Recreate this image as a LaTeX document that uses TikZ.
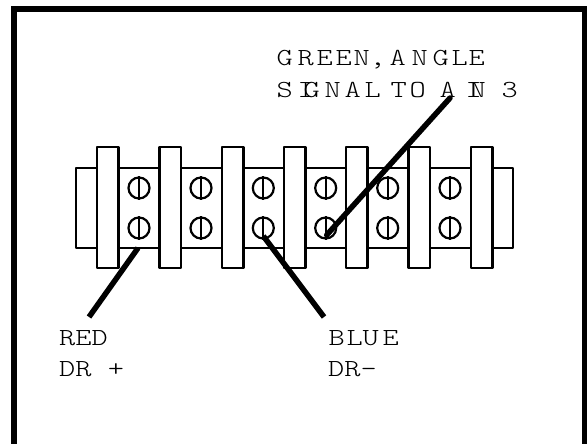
\documentclass[tikz,border=0pt]{standalone}
\usepackage{fontspec}
\newfontfamily\cour[FakeStretch=1.26]{Latin Modern Mono Light}
\newcommand{\lbl}[1]{{\cour\fontsize{24.5}{24.5}\selectfont #1}}
\newcommand{\glyphat}[2]{\rlap{\kern#1pt\relax #2}}
\tikzset{
 x=1pt,y=-1pt,
 frameline/.style={draw=black,line width=6pt},
 boxline/.style={draw=black,fill=white,line width=2.6pt,line join=round},
 screw/.style={circle,draw=black,fill=white,line width=2.2pt,minimum size=21pt,inner sep=0pt},
 wire/.style={draw=black,line width=5.5pt},
 lab/.style={anchor=base west,inner sep=0pt,text=black}
}
\begin{document}
\begin{tikzpicture}
\useasboundingbox (0,0) rectangle (587,444);
\fill[white] (0,0) rectangle (587,444);
\draw[frameline] (14,9) rectangle (585,450);
\draw[boxline] (76,168) rectangle (513,248);
\foreach \i/\x in {1/97,2/159.5,3/222,4/284,5/346,6/408.5,7/471}{
  \draw[boxline] (\x,147) rectangle +(21.5,121);
}
\foreach \i/\x in {1/139,2/201,3/263.3,4/325.7,5/387.7,6/450}{
  \node[screw] (t\i) at (\x,188) {};
  \node[screw] (b\i) at (\x,228) {};
  \draw[line width=2.2pt] (t\i.north) -- (t\i.south);
  \draw[line width=2.2pt] (b\i.north) -- (b\i.south);
}
\coordinate (redend) at (89,317);
\coordinate (redtop) at (138,248);
\coordinate (blueend) at (324,317);
\coordinate (greenend) at (450,98);
\draw[wire] (redtop) -- (redend);
\draw[wire] ([yshift=-8pt]b3.center) -- (blueend);
\draw[wire,line cap=round] ([xshift=1pt,yshift=-7pt]b4.center) -- (greenend);
\node[lab] (l1) at (276,66) {\lbl{\glyphat{0}{G}\glyphat{21}{R}\glyphat{40}{E}\glyphat{59}{E}\glyphat{77}{N}\glyphat{93}{,}\glyphat{113}{A}\glyphat{135}{N}\glyphat{156}{G}\glyphat{175}{L}\glyphat{192}{E}}};
\node[lab] (l2) at (276,98) {\lbl{\glyphat{0}{S}\glyphat{21}{I}\glyphat{27}{G}\glyphat{48}{N}\glyphat{68}{A}\glyphat{88}{L}\glyphat{114}{T}\glyphat{133}{O}\glyphat{163}{A}\glyphat{189}{I}\glyphat{193}{N}\glyphat{225}{3}}};
\node[lab] (l3) at (59,345) {\lbl{RED}};
\node[lab] (l4) at (59,376) {\lbl{DR +}};
\node[lab] (l5) at (328,345) {\lbl{\glyphat{0}{B}\glyphat{18}{L}\glyphat{34}{U}\glyphat{54}{E}}};
\node[lab] (l6) at (328,376) {\lbl{DR-}};
\end{tikzpicture}
\end{document}
